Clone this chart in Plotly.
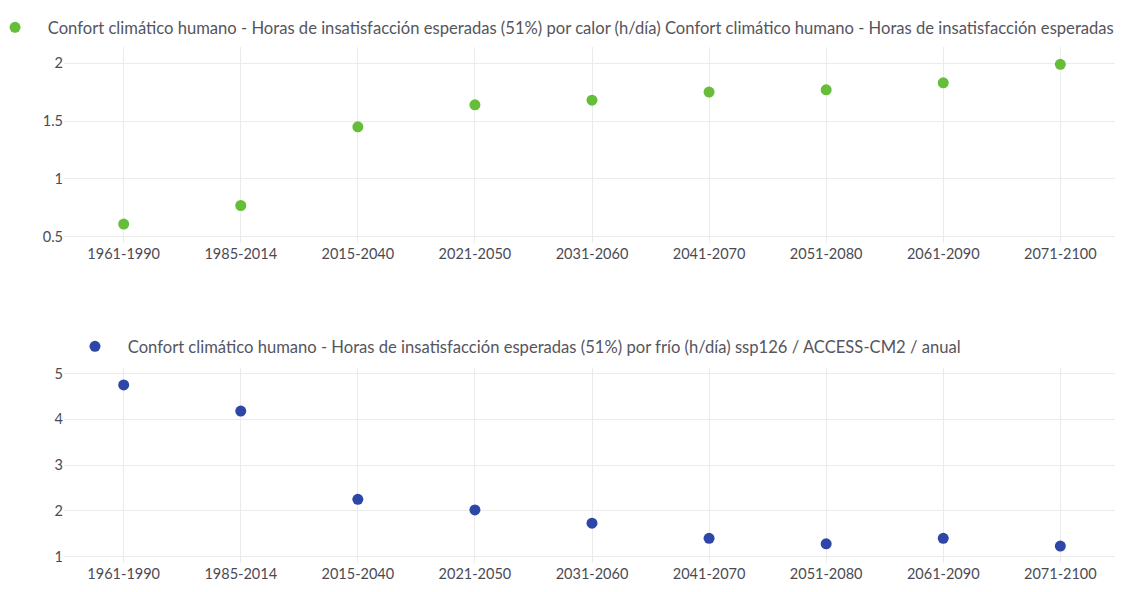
import plotly.graph_objects as go

periods = ["1961-1990", "1985-2014", "2015-2040", "2021-2050", "2031-2060",
           "2041-2070", "2051-2080", "2061-2090", "2071-2100"]
heat_hours = [0.61, 0.77, 1.45, 1.64, 1.68, 1.75, 1.77, 1.83, 1.99]
cold_hours = [4.75, 4.18, 2.25, 2.02, 1.73, 1.40, 1.28, 1.40, 1.23]

heat_name = ("Confort climático humano - Horas de insatisfacción esperadas (51%) por calor (h/día) "
             "Confort climático humano - Horas de insatisfacción esperadas (51%) por calor (h/día) ssp126 / ACCESS-CM2 / anual")
cold_name = ("Confort climático humano - Horas de insatisfacción esperadas (51%) por frío (h/día) "
             "ssp126 / ACCESS-CM2 / anual")
pad = "\u00a0\u00a0\u00a0"

FONT = "Lato"
TXT = "#4a4a55"
GRID = "#ebebeb"
W, H = 1115, 584  # page body adds an 8px margin

fig = go.Figure()
fig.add_trace(go.Scatter(x=periods, y=heat_hours, mode="markers", name=pad + heat_name,
                         marker=dict(color="#66bd3a", size=11), xaxis="x", yaxis="y",
                         legend="legend"))
fig.add_trace(go.Scatter(x=periods, y=cold_hours, mode="markers", name=pad + cold_name,
                         marker=dict(color="#2e46a6", size=11), xaxis="x2", yaxis="y2",
                         legend="legend2"))

axis_common = dict(showgrid=True, gridcolor=GRID, gridwidth=1, zeroline=False, showline=False,
                   tickfont=dict(family=FONT, size=14.5, color=TXT), automargin=False, ticks="")

fig.update_layout(
    width=W, height=H,
    margin=dict(l=56, r=3, t=0, b=0, autoexpand=False),
    paper_bgcolor="white", plot_bgcolor="white",
    font=dict(family=FONT, color=TXT),
    xaxis=dict(domain=[0, 1], anchor="y", type="category", **axis_common),
    yaxis=dict(domain=[1 - 235 / H, 1 - 39 / H], anchor="x", range=[0.446, 2.14],
               tickvals=[0.5, 1, 1.5, 2], ticktext=["0.5", "1", "1.5", "2"], **axis_common),
    xaxis2=dict(domain=[0, 1], anchor="y2", type="category", **axis_common),
    yaxis2=dict(domain=[1 - 555 / H, 1 - 360 / H], anchor="x2", range=[0.86, 5.12],
                tickvals=[1, 2, 3, 4, 5], **axis_common),
    legend=dict(x=-0.0653, y=1 - 2 / H, xanchor="left", yanchor="top", orientation="h",
                font=dict(family=FONT, size=16.6, color="#555560"), bgcolor="rgba(0,0,0,0)"),
    legend2=dict(x=0.0104, y=1 - 321 / H, xanchor="left", yanchor="top", orientation="h",
                 font=dict(family=FONT, size=16.6, color="#555560"), bgcolor="rgba(0,0,0,0)"),
    showlegend=True,
)

fig.write_html("out.html")
